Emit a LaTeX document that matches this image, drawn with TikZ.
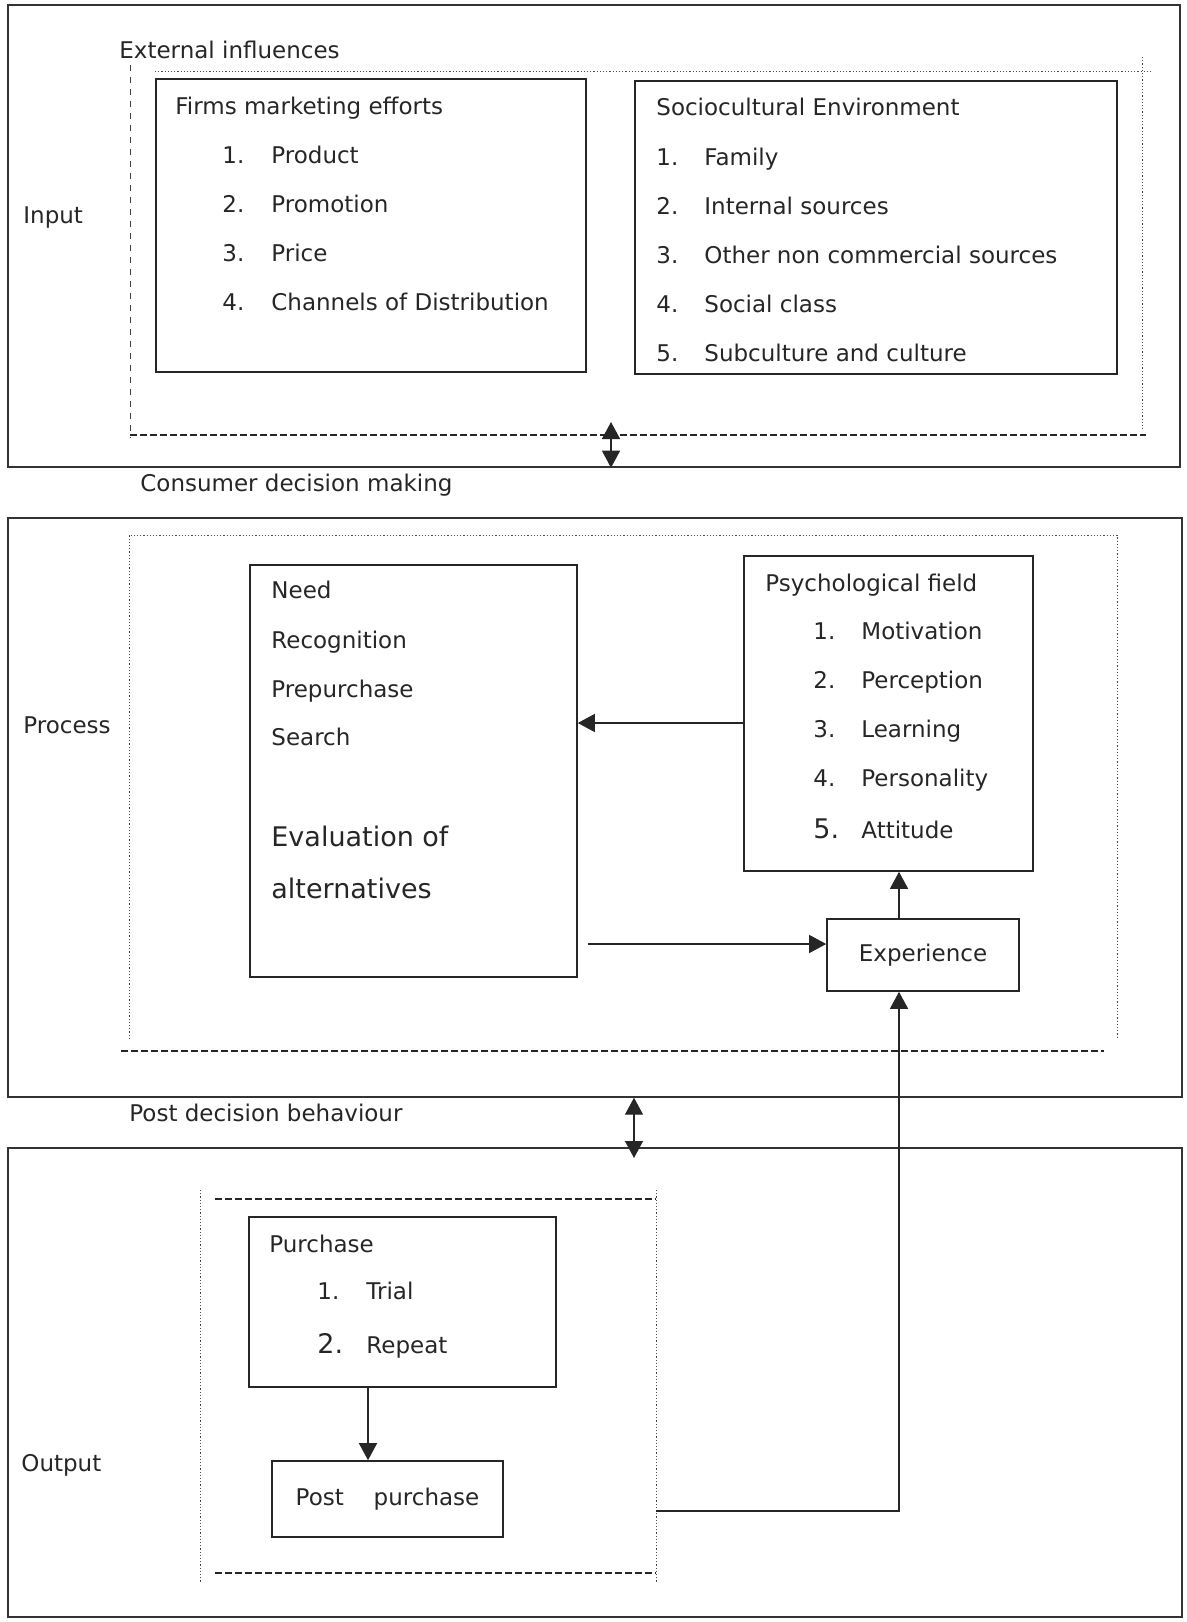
\documentclass[tikz,border=0pt]{standalone}
\usepackage{fontspec}
\setmainfont{DejaVu Sans}
\usetikzlibrary{arrows.meta,fit}

\begin{document}
\begin{tikzpicture}
  [x=0.5pt, y=-0.5pt, >={Triangle[length=8.5pt,width=9pt]},
    font=\fontsize{11.5}{14}\selectfont,
    panel/.style={%
      draw=black!80, line width=0.7pt, inner sep=0pt
    },
    stage/.style={%
      draw=black!85, line width=0.8pt, inner sep=0pt, text=black!85
    },
    txt/.style={%
      anchor=west, inner sep=0pt, text=black!85,
      text height=1.75ex, text depth=0.5ex
    },
    big/.style={%
      font=\fontsize{13.5}{16}\selectfont
    },
    fence/.style={%
      draw=black!70, line width=0.4pt, dash pattern=on 0.6pt off 1pt
    },
    cutline/.style={%
      draw=black!85, line width=1pt, dash pattern=on 3.5pt off 1.5pt
    },
    arr/.style={%
      draw=black!85, line width=0.7pt
    },
  ]

  \useasboundingbox (0,0) rectangle (1187,1622);

  % three stages
  \node[panel, fit={(8,5) (1180,467)}] (inbox) {};
  \node[panel, fit={(8,518) (1182,1097)}] (procbox) {};
  \node[panel, fit={(8,1148) (1182,1617)}] (outbox) {};

  \node[txt] (extl) at (119,52) {External influences};
  \node[txt] (inl) at (23,217) {Input};
  \node[txt] (cdm) at (140,485) {Consumer decision making};
  \node[txt] (procl) at (23,727) {Process};
  \node[txt] (pdb) at (129,1115) {Post decision behaviour};
  \node[txt] (outl) at (21,1465) {Output};

  % frames
  \draw[dashed, draw=black!75, line width=0.5pt] (130,65) -- (130,438);
  \draw[fence] (155,71) -- (1153,71);
  \draw[fence] (1142,57) -- (1142,430);
  \draw[cutline] (130,435) -- (1146,435);

  \draw[fence] (129,1039) -- (129,535) -- (1117,535) -- (1117,1039);
  \draw[cutline] (121,1051) -- (1104,1051);

  \draw[fence] (200,1190) -- (200,1583);
  \draw[fence] (656,1190) -- (656,1583);
  \draw[cutline] (215,1199) -- (656,1199);
  \draw[cutline] (215,1573) -- (656,1573);

  % input
  \node[stage, fit={(156,79) (586,372)}] (firms) {};
  \node[txt] (firmst) at (175,108) {Firms marketing efforts};
  \foreach \t [count=\i] in {Product,Promotion,Price,Channels of Distribution} {
    \node[txt] (fn\i) at (222,{108+49*\i}) {\i.};
    \node[txt] (ft\i) at (271,{108+49*\i}) {\t};
  }

  \node[stage, fit={(635,81) (1117,374)}] (socio) {};
  \node[txt] (sociot) at (656,109) {Sociocultural Environment};
  \foreach \t [count=\i] in {Family,Internal sources,Other non commercial sources,Social class,Subculture and culture} {
    \node[txt] (sn\i) at (656,{110+49*\i}) {\i.};
    \node[txt] (st\i) at (704,{110+49*\i}) {\t};
  }

  % process
  \node[stage, fit={(250,565) (577,977)}] (need) {};
  \node[txt] (need1) at (271,592) {Need};
  \node[txt] (need2) at (271,642) {Recognition};
  \node[txt] (need3) at (271,691) {Prepurchase};
  \node[txt] (need4) at (271,739) {Search};
  \node[txt, big] (need5) at (271,840) {Evaluation of};
  \node[txt, big] (need6) at (271,892) {alternatives};

  \node[stage, fit={(744,556) (1033,871)}] (psych) {};
  \node[txt] (psycht) at (765,585) {Psychological field};
  \foreach \t [count=\i] in {Motivation,Perception,Learning,Personality} {
    \node[txt] (pn\i) at (813,{584+49*\i}) {\i.};
    \node[txt] (pt\i) at (861,{584+49*\i}) {\t};
  }
  \node[txt] (pt5) at (861,832) {Attitude};
  \node[txt, big, anchor=base west] (pn5) at (pt5.base -| pn4.west) {5.};

  \node[stage, minimum width=96pt, minimum height=36pt] (exp) at (923,955) {Experience\hspace{0.8em}};

  % output
  \node[stage, fit={(249,1217) (556,1387)}] (purch) {};
  \node[txt] (purcht) at (269,1246) {Purchase};
  \node[txt] (un1) at (317,1293) {1.};
  \node[txt] (ut1) at (366,1293) {Trial};
  \node[txt] (ut2) at (366,1347) {Repeat};
  \node[txt, big, anchor=base west] (un2) at (ut2.base -| un1.west) {2.};

  \node[stage, minimum width=115.5pt, minimum height=38pt] (post) at (387.5,1499) {Post\hspace{1.3em}purchase};

  % links
  \coordinate (fbk) at (0,723);
  \coordinate (fwd) at (0,944);
  \coordinate (lift) at (899,0);
  \coordinate (drop) at (368,0);
  \coordinate (pp) at (656,1511);
  \coordinate (linkA) at (611,422);
  \coordinate (linkB) at (634,1158);

  \draw[->, arr] (psych.west |- fbk) -- (need.east |- fbk);
  \draw[->, arr, shorten <=5pt] (need.east |- fwd) -- (exp.west |- fwd);
  \draw[->, arr] (exp.north -| lift) -- (psych.south -| lift);
  \draw[->, arr] (pp) -| (exp.south -| lift);
  \draw[->, arr] (purch.south -| drop) -- (post.north -| drop);

  \draw[<->, arr] (linkA) -- (inbox.south -| linkA);
  \draw[<->, arr] (procbox.south -| linkB) -- (linkB);

\end{tikzpicture}
\end{document}
